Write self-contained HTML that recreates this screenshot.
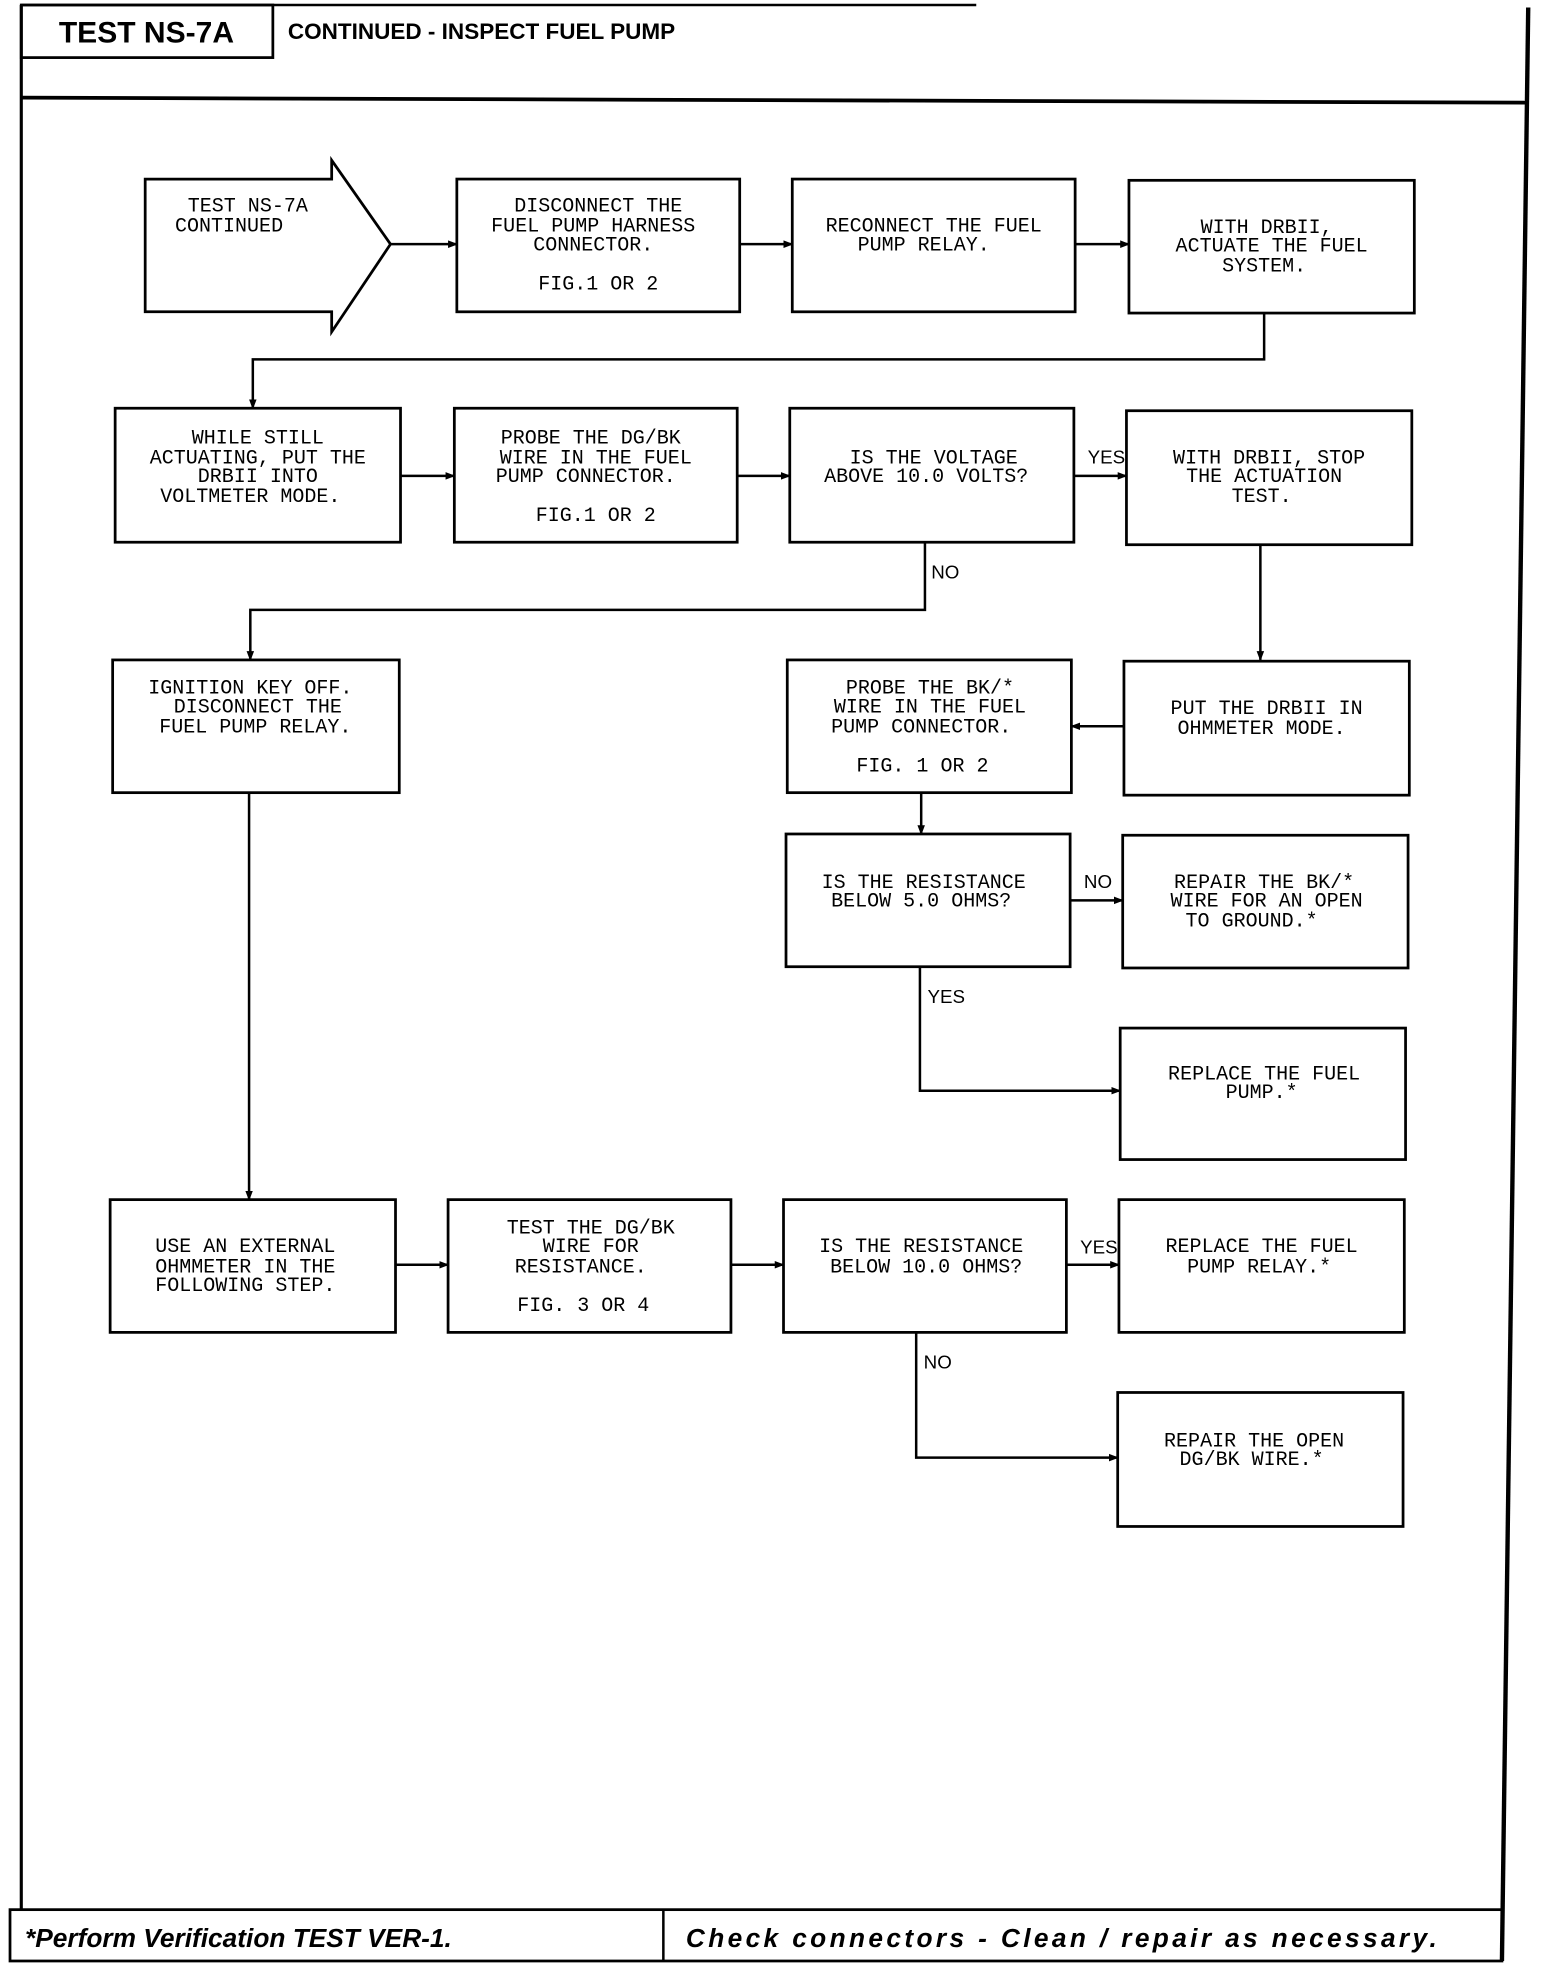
<!DOCTYPE html>
<html><head><meta charset="utf-8"><style>
html,body{margin:0;padding:0;background:#fff}
svg{display:block}
.t{font-family:"Liberation Mono",monospace;font-size:16px;fill:#000;text-anchor:middle}
.b{fill:none;stroke:#000;stroke-width:2.2}
.l{fill:none;stroke:#000;stroke-width:2}
.lab{font-family:"Liberation Sans",sans-serif;font-size:15px}
</style></head><body>
<svg width="1552" height="1966" viewBox="0 0 1240 1570" preserveAspectRatio="none" xmlns="http://www.w3.org/2000/svg">
<defs><marker id="a" markerWidth="8" markerHeight="8" refX="7" refY="4" orient="auto" markerUnits="userSpaceOnUse"><path d="M0,1 L8,4 L0,7 z" fill="#000"/></marker></defs>
<!-- frame -->
<path d="M17,4 L780,4" stroke="#000" stroke-width="2"/>
<path d="M17,4 L17,1525" stroke="#000" stroke-width="2.5"/>
<path d="M1221,6 L1200,1566" stroke="#000" stroke-width="3.5" fill="none"/>
<path d="M17,78 L1221,82" stroke="#000" stroke-width="3"/>
<rect x="17" y="4" width="201" height="42" class="b"/>
<text x="117" y="34" font-family="Liberation Sans,sans-serif" font-weight="bold" font-size="24" text-anchor="middle">TEST NS-7A</text>
<text x="230" y="31" font-family="Liberation Sans,sans-serif" font-weight="bold" font-size="18">CONTINUED -  INSPECT FUEL PUMP</text>
<rect x="8" y="1525" width="1192" height="41" class="b"/>
<path d="M530,1525 L530,1566" stroke="#000" stroke-width="2"/>
<text x="20" y="1555" font-family="Liberation Sans,sans-serif" font-weight="bold" font-style="italic" font-size="21">*Perform Verification TEST VER-1.</text>
<text x="548" y="1555" font-family="Liberation Sans,sans-serif" font-weight="bold" font-style="italic" font-size="21" textLength="600">Check connectors - Clean / repair as necessary.</text>

<!-- row1 -->
<path d="M116,143 L265,143 L265,128 L312,195 L265,265 L265,249 L116,249 Z" class="b"/>
<text class="t" x="198" y="169">TEST NS-7A</text><text class="t" x="183" y="185">CONTINUED</text>
<rect x="365" y="143" width="226" height="106" class="b"/>
<text class="t" x="478" y="169">DISCONNECT THE</text><text class="t" x="474" y="185">FUEL PUMP HARNESS</text><text class="t" x="474" y="200">CONNECTOR.</text><text class="t" x="478" y="231">FIG.1 OR 2</text>
<rect x="633" y="143" width="226" height="106" class="b"/>
<text class="t" x="746" y="185">RECONNECT THE FUEL</text><text class="t" x="738" y="200">PUMP RELAY.</text>
<rect x="902" y="144" width="228" height="106" class="b"/>
<text class="t" x="1012" y="186">WITH DRBII,</text><text class="t" x="1016" y="201">ACTUATE THE FUEL</text><text class="t" x="1010" y="217">SYSTEM.</text>
<path d="M312,195 L365,195" class="l" marker-end="url(#a)"/>
<path d="M591,195 L633,195" class="l" marker-end="url(#a)"/>
<path d="M859,195 L902,195" class="l" marker-end="url(#a)"/>
<path d="M1010,250 L1010,287 L202,287 L202,326" class="l" marker-end="url(#a)"/>

<!-- row2 -->
<rect x="92" y="326" width="228" height="107" class="b"/>
<text class="t" x="206" y="354">WHILE STILL</text><text class="t" x="206" y="370">ACTUATING, PUT THE</text><text class="t" x="206" y="385">DRBII INTO</text><text class="t" x="200" y="401">VOLTMETER MODE.</text>
<rect x="363" y="326" width="226" height="107" class="b"/>
<text class="t" x="472" y="354">PROBE THE DG/BK</text><text class="t" x="476" y="370">WIRE IN THE FUEL</text><text class="t" x="468" y="385">PUMP CONNECTOR.</text><text class="t" x="476" y="416">FIG.1 OR 2</text>
<rect x="631" y="326" width="227" height="107" class="b"/>
<text class="t" x="746" y="370">IS THE VOLTAGE</text><text class="t" x="740" y="385">ABOVE 10.0 VOLTS?</text>
<rect x="900" y="328" width="228" height="107" class="b"/>
<text class="t" x="1014" y="370">WITH DRBII, STOP</text><text class="t" x="1010" y="385">THE ACTUATION</text><text class="t" x="1008" y="401">TEST.</text>
<path d="M320,380 L363,380" class="l" marker-end="url(#a)"/>
<path d="M589,380 L631,380" class="l" marker-end="url(#a)"/>
<path d="M858,380 L900,380" class="l" marker-end="url(#a)"/>
<text class="lab" x="869" y="370">YES</text>
<path d="M739,433 L739,487 L200,487 L200,527" class="l" marker-end="url(#a)"/>
<text class="lab" x="744" y="462">NO</text>
<path d="M1007,435 L1007,527" class="l" marker-end="url(#a)"/>

<!-- row3 -->
<rect x="90" y="527" width="229" height="106" class="b"/>
<text class="t" x="200" y="554">IGNITION KEY OFF.</text><text class="t" x="206" y="569">DISCONNECT THE</text><text class="t" x="204" y="585">FUEL PUMP RELAY.</text>
<rect x="629" y="527" width="227" height="106" class="b"/>
<text class="t" x="743" y="554">PROBE THE BK/*</text><text class="t" x="743" y="569">WIRE IN THE FUEL</text><text class="t" x="736" y="585">PUMP CONNECTOR.</text><text class="t" x="737" y="616">FIG. 1 OR 2</text>
<rect x="898" y="528" width="228" height="107" class="b"/>
<text class="t" x="1012" y="570">PUT THE DRBII IN</text><text class="t" x="1008" y="586">OHMMETER MODE.</text>
<path d="M898,580 L856,580" class="l" marker-end="url(#a)"/>
<path d="M736,633 L736,666" class="l" marker-end="url(#a)"/>

<!-- row4 -->
<rect x="628" y="666" width="227" height="106" class="b"/>
<text class="t" x="738" y="709">IS THE RESISTANCE</text><text class="t" x="736" y="724">BELOW 5.0 OHMS?</text>
<rect x="897" y="667" width="228" height="106" class="b"/>
<text class="t" x="1010" y="709">REPAIR THE BK/*</text><text class="t" x="1012" y="724">WIRE FOR AN OPEN</text><text class="t" x="1000" y="740">TO GROUND.*</text>
<path d="M855,719 L897,719" class="l" marker-end="url(#a)"/>
<text class="lab" x="866" y="709">NO</text>
<path d="M735,772 L735,871 L895,871" class="l" marker-end="url(#a)"/>
<text class="lab" x="741" y="801">YES</text>
<rect x="895" y="821" width="228" height="105" class="b"/>
<text class="t" x="1010" y="862">REPLACE THE FUEL</text><text class="t" x="1008" y="877">PUMP.*</text>
<path d="M199,633 L199,958" class="l" marker-end="url(#a)"/>

<!-- row5 -->
<rect x="88" y="958" width="228" height="106" class="b"/>
<text class="t" x="196" y="1000">USE AN EXTERNAL</text><text class="t" x="196" y="1016">OHMMETER IN THE</text><text class="t" x="196" y="1031">FOLLOWING STEP.</text>
<rect x="358" y="958" width="226" height="106" class="b"/>
<text class="t" x="472" y="985">TEST THE DG/BK</text><text class="t" x="472" y="1000">WIRE FOR</text><text class="t" x="464" y="1016">RESISTANCE.</text><text class="t" x="466" y="1047">FIG. 3 OR 4</text>
<rect x="626" y="958" width="226" height="106" class="b"/>
<text class="t" x="736" y="1000">IS THE RESISTANCE</text><text class="t" x="740" y="1016">BELOW 10.0 OHMS?</text>
<rect x="894" y="958" width="228" height="106" class="b"/>
<text class="t" x="1008" y="1000">REPLACE THE FUEL</text><text class="t" x="1006" y="1016">PUMP RELAY.*</text>
<path d="M316,1010 L358,1010" class="l" marker-end="url(#a)"/>
<path d="M584,1010 L626,1010" class="l" marker-end="url(#a)"/>
<path d="M852,1010 L894,1010" class="l" marker-end="url(#a)"/>
<text class="lab" x="863" y="1001">YES</text>
<path d="M732,1064 L732,1164 L893,1164" class="l" marker-end="url(#a)"/>
<text class="lab" x="738" y="1093">NO</text>
<rect x="893" y="1112" width="228" height="107" class="b"/>
<text class="t" x="1002" y="1155">REPAIR THE OPEN</text><text class="t" x="1000" y="1170">DG/BK WIRE.*</text>
</svg>
</body></html>
